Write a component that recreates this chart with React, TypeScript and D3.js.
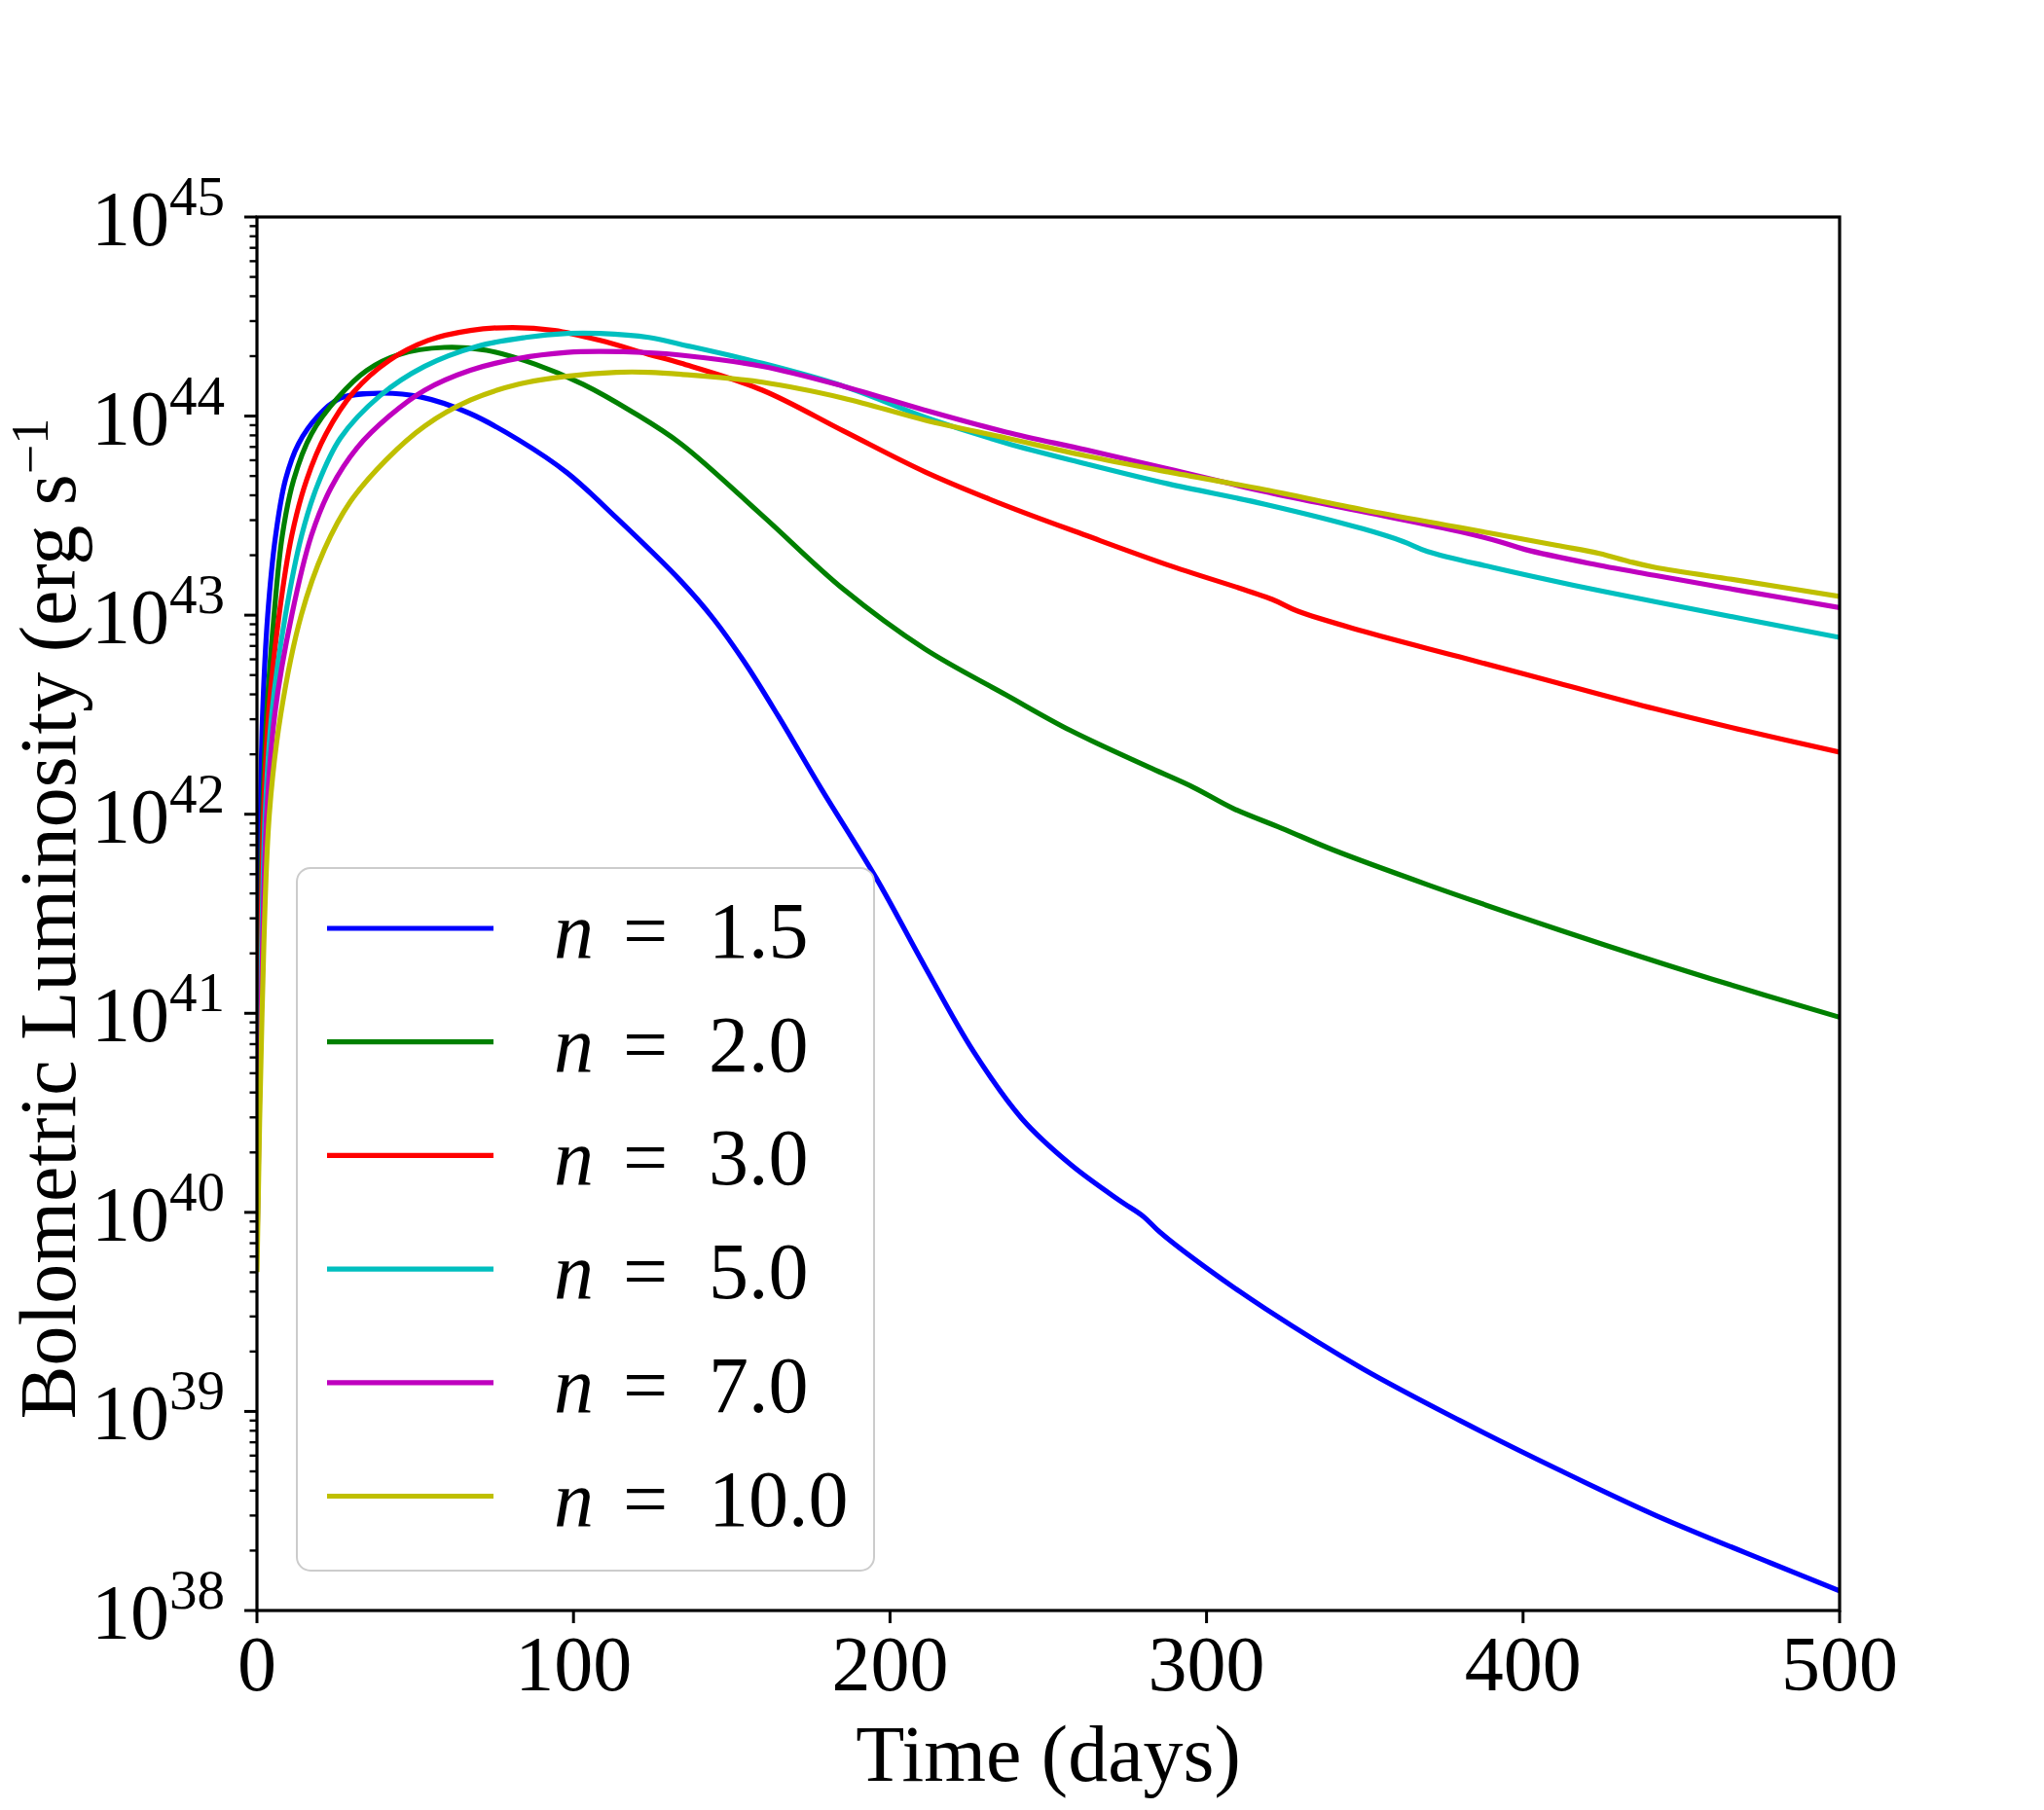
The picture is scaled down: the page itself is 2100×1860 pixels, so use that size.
import * as d3 from 'd3';

// figure geometry (matplotlib default subplot box on a 2100x1860 canvas)
const W = 2100;
const H = 1860;
const AX = { left: 264, right: 1890, top: 223, bottom: 1655 };
const FONT = '"Liberation Serif", "DejaVu Serif", serif';
const FS = 82;

// time (days) and log10 of bolometric luminosity
const days15 = [0, 0.5, 1.1, 1.8, 3.4, 5.9, 9, 13.1, 19.3, 26.4, 38.7, 52, 67, 82.7, 98, 113.5, 134, 144.3, 154.6, 164.8, 178.2, 195.6, 211, 226.3, 241.7, 257.1, 272.5, 280, 285.3, 300, 318.6, 349.3, 380.1, 410.9, 441.6, 478.5, 500];
const logL15 = [39.9, 41.0, 42.0, 42.51, 43.0, 43.4, 43.68, 43.86, 44.0, 44.09, 44.115, 44.095, 44.015, 43.88, 43.715, 43.49, 43.17, 42.98, 42.75, 42.49, 42.13, 41.68, 41.235, 40.81, 40.47, 40.24, 40.06, 39.98, 39.9, 39.72, 39.516, 39.215, 38.954, 38.71, 38.48, 38.237, 38.099];

const days20 = [0, 0.8, 1.8, 3.1, 5.4, 8, 11.6, 17.2, 25.4, 34.7, 45, 59.2, 72.6, 88, 103, 118.7, 134, 159.7, 185.3, 211, 236.6, 257.1, 282.7, 296, 308.3, 323.7, 340.1, 370, 400, 426.2, 460, 500];
const logL20 = [39.9, 41.0, 42.0, 42.51, 43.0, 43.4, 43.68, 43.91, 44.09, 44.23, 44.31, 44.345, 44.33, 44.26, 44.16, 44.02, 43.86, 43.5, 43.13, 42.83, 42.6, 42.42, 42.23, 42.134, 42.03, 41.93, 41.82, 41.645, 41.48, 41.341, 41.17, 40.98];

const days30 = [0, 0.9, 2.1, 3.7, 7, 11, 15.7, 21.8, 30.5, 41.8, 54, 67.4, 80.8, 94, 108.4, 123.8, 134, 159.7, 185.3, 211, 236.6, 262, 287.8, 320.6, 328.8, 349.3, 380, 410.8, 441.6, 470, 500];
const logL30 = [39.85, 41.0, 42.0, 42.51, 43.0, 43.4, 43.68, 43.91, 44.12, 44.28, 44.38, 44.43, 44.445, 44.43, 44.38, 44.31, 44.265, 44.13, 43.925, 43.72, 43.55, 43.4, 43.252, 43.08, 43.02, 42.92, 42.79, 42.66, 42.53, 42.42, 42.312];

const days50 = [0, 1.1, 2.6, 4.7, 9, 14.1, 19.3, 26.4, 38.7, 53, 69.5, 84.9, 98, 108.4, 123.8, 134, 159.7, 185.3, 211, 236.6, 262, 287.8, 318.5, 349.3, 362.1, 369.8, 390.3, 416, 441.6, 470, 500];
const logL50 = [39.8, 41.0, 42.0, 42.51, 43.0, 43.4, 43.66, 43.89, 44.1, 44.25, 44.35, 44.395, 44.415, 44.415, 44.395, 44.36, 44.265, 44.15, 43.995, 43.865, 43.76, 43.66, 43.557, 43.434, 43.37, 43.32, 43.24, 43.15, 43.068, 42.98, 42.888];

const days70 = [0, 1.3, 3.1, 5.7, 11, 17.2, 23.4, 31.6, 41.8, 53, 67.4, 82.7, 98, 108, 124, 134, 159.7, 185.3, 211, 236.6, 262, 287.8, 318.5, 349.3, 380, 392.4, 400.6, 421, 441.6, 470, 500];
const logL70 = [39.8, 41.0, 42.0, 42.51, 43.0, 43.4, 43.64, 43.84, 44.0, 44.13, 44.23, 44.29, 44.32, 44.325, 44.318, 44.306, 44.25, 44.15, 44.03, 43.92, 43.83, 43.735, 43.62, 43.52, 43.42, 43.37, 43.33, 43.26, 43.2, 43.12, 43.038];

const days100 = [0, 1.6, 3.9, 7.5, 14, 21.3, 29.5, 40.8, 53, 67.4, 82.7, 98, 113.5, 124, 134, 159.7, 185.3, 211, 236.6, 262, 287.8, 318.5, 349.3, 380, 410.8, 424.1, 433.4, 441.6, 470, 500];
const logL100 = [39.7, 41.0, 42.0, 42.5, 43.0, 43.33, 43.57, 43.78, 43.95, 44.08, 44.16, 44.2, 44.22, 44.22, 44.21, 44.17, 44.09, 43.98, 43.89, 43.8, 43.72, 43.63, 43.53, 43.44, 43.35, 43.31, 43.27, 43.24, 43.17, 43.094];

const labels = ['1.5', '2.0', '3.0', '5.0', '7.0', '10.0'];
const colors = ['#0000ff', '#008000', '#ff0000', '#00bfbf', '#bf00bf', '#bfbf00'];
const allDays = [days15, days20, days30, days50, days70, days100];
const allLogL = [logL15, logL20, logL30, logL50, logL70, logL100];

const xTicks = [0, 100, 200, 300, 400, 500];
const yExps = [38, 39, 40, 41, 42, 43, 44, 45];

const App = () => {
  const x = d3.scaleLinear().domain([0, 500]).range([AX.left, AX.right]);
  const y = d3.scaleLog().domain([1e38, 1e45]).range([AX.bottom, AX.top]);

  const line = d3
    .line<[number, number]>()
    .x((d) => x(d[0]))
    .y((d) => y(Math.pow(10, d[1])))
    .curve(d3.curveCatmullRom.alpha(0.5));

  const minor = y.ticks().filter((v) => {
    const e = Math.log10(v);
    return Math.abs(e - Math.round(e)) > 1e-6;
  });

  // legend box
  const lg = { x: 305, y: 892, w: 593, h: 722 };
  const rowY = (i: number) => 954 + i * 116.7;

  return (
    <div style={{ position: 'absolute', left: 0, top: 0 }}>
      <svg width={W} height={H} viewBox={`0 0 ${W} ${H}`} style={{ display: 'block', background: '#fff' }}>
        <defs>
          <clipPath id='axclip'>
            <rect x={AX.left} y={AX.top} width={AX.right - AX.left} height={AX.bottom - AX.top} />
          </clipPath>
        </defs>

        {/* curves */}
        <g clipPath='url(#axclip)'>
          {labels.map((lab, i) => {
            const pts = allDays[i].map((t, j) => [t, allLogL[i][j]] as [number, number]);
            return (
              <path key={lab} d={line(pts) as string} fill='none' stroke={colors[i]} strokeWidth={5.2} strokeLinejoin='round' />
            );
          })}
        </g>

        {/* ticks */}
        <g stroke='#000'>
          {xTicks.map((t) => (
            <line key={t} x1={x(t)} x2={x(t)} y1={AX.bottom} y2={AX.bottom + 13} strokeWidth={3} />
          ))}
          {yExps.map((e) => (
            <line key={e} x1={AX.left - 13} x2={AX.left} y1={y(Math.pow(10, e))} y2={y(Math.pow(10, e))} strokeWidth={3} />
          ))}
          {minor.map((v, i) => (
            <line key={i} x1={AX.left - 7.5} x2={AX.left} y1={y(v)} y2={y(v)} strokeWidth={2.4} />
          ))}
        </g>

        {/* spines */}
        <rect
          x={AX.left}
          y={AX.top}
          width={AX.right - AX.left}
          height={AX.bottom - AX.top}
          fill='none'
          stroke='#000'
          strokeWidth={3.2}
        />

        {/* tick labels */}
        <g fontFamily={FONT} fontSize={80} fill='#000'>
          {xTicks.map((t) => (
            <text key={t} x={x(t)} y={AX.bottom + 82} textAnchor='middle'>
              {t}
            </text>
          ))}
          {yExps.map((e) => (
            <text key={e} x={231} y={y(Math.pow(10, e)) + 29} textAnchor='end'>
              10
              <tspan dy={-31} fontSize={57}>
                {e}
              </tspan>
            </text>
          ))}
        </g>

        {/* axis labels */}
        <g fontFamily={FONT} fontSize={FS} fill='#000'>
          <text x={(AX.left + AX.right) / 2} y={1830} textAnchor='middle'>
            Time (days)
          </text>
          <text transform={`translate(77, ${(AX.top + AX.bottom) / 2 + 5}) rotate(-90)`} textAnchor='middle'>
            Bolometric Luminosity (erg s
            <tspan dy={-28} fontSize={54}>
              −1
            </tspan>
          </text>
        </g>

        {/* legend */}
        <g>
          <rect x={lg.x} y={lg.y} width={lg.w} height={lg.h} rx={14} ry={14} fill='#fff' fillOpacity={0.8} stroke='#cccccc' strokeWidth={2} />
          {labels.map((lab, i) => (
            <g key={lab}>
              <line x1={336} x2={507} y1={rowY(i)} y2={rowY(i)} stroke={colors[i]} strokeWidth={5.2} />
              <text y={rowY(i) + 30} fontFamily={FONT} fontSize={FS} fill='#000'>
                <tspan x={569} fontStyle='italic'>
                  n
                </tspan>
                <tspan x={640}>=</tspan>
                <tspan x={728}>{lab}</tspan>
              </text>
            </g>
          ))}
        </g>
      </svg>
    </div>
  );
};

export default App;
